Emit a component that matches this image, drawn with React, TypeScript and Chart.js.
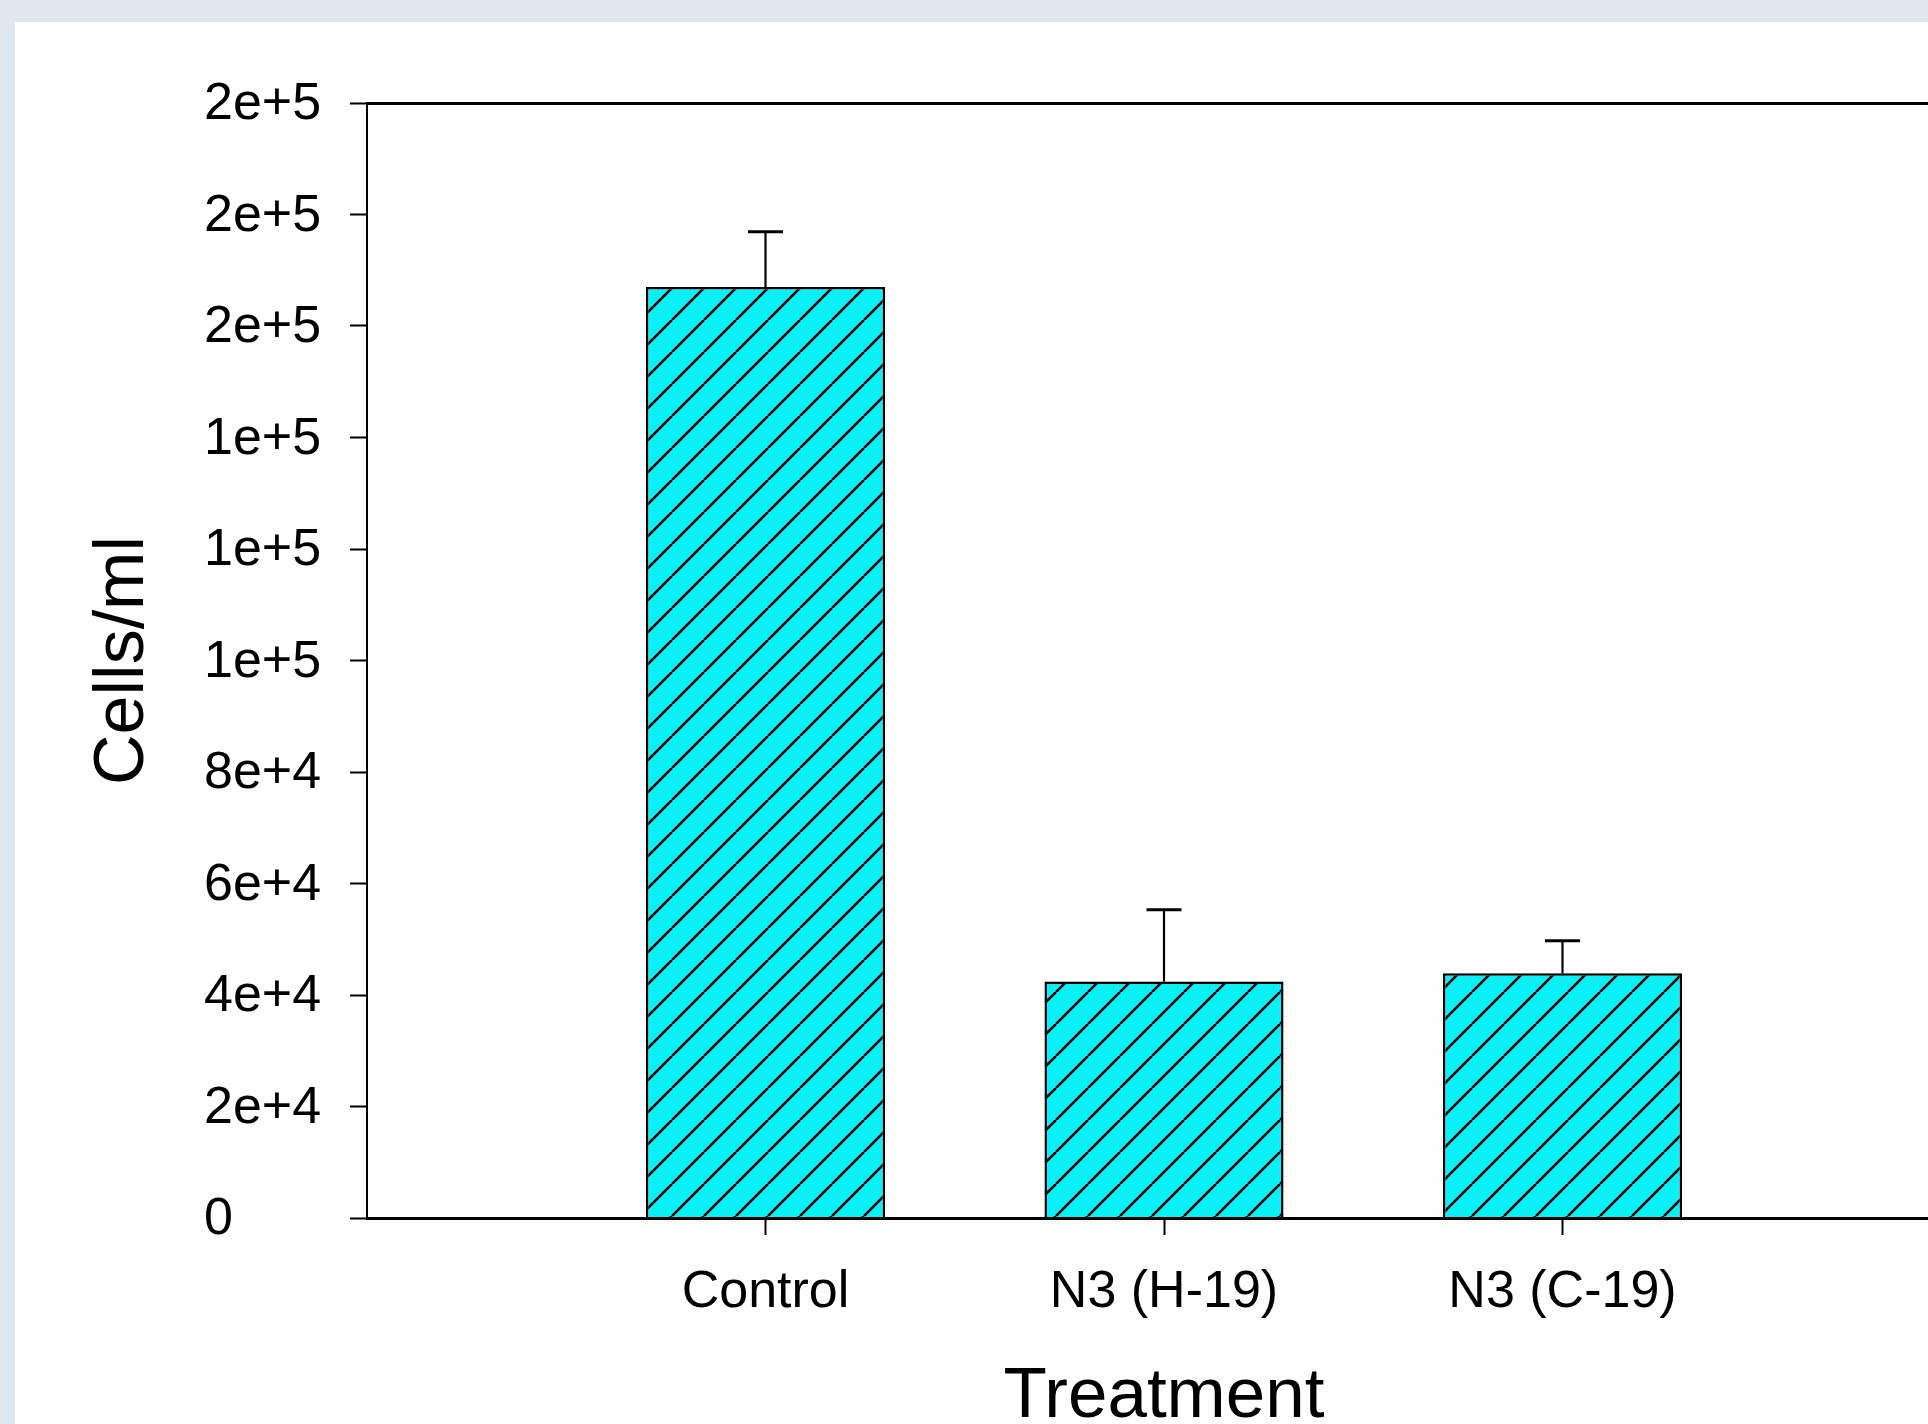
import React, { useEffect, useRef } from 'react';
import { Chart, registerables } from 'chart.js';

Chart.register(...registerables);

// ---- data ----
const categories = ['Control', 'N3 (H-19)', 'N3 (C-19)'];
const means = [167000, 42400, 43900];
const errors = [9900, 12900, 5850];
const yTickLabels = ['0', '2e+4', '4e+4', '6e+4', '8e+4', '1e+5', '1e+5', '1e+5', '2e+5', '2e+5', '2e+5'];
const yMin = 0;
const yMax = 200000;
const yStep = 20000;
const yAxisTitle = 'Cells/ml';
const xAxisTitle = 'Treatment';

const FONT = 'Liberation Sans, Arial, Helvetica, sans-serif';
const BAR_FILL = 'rgb(10, 240, 245)';

function makeHatch(ctx: CanvasRenderingContext2D): CanvasPattern | string {
  const size = 32;
  const tile = document.createElement('canvas');
  tile.width = size;
  tile.height = size;
  const t = tile.getContext('2d');
  if (!t) return BAR_FILL;
  t.fillStyle = BAR_FILL;
  t.fillRect(0, 0, size, size);
  t.strokeStyle = '#000';
  t.lineWidth = 2.6;
  for (const k of [-1, 0, 1]) {
    t.beginPath();
    t.moveTo(k * size, size);
    t.lineTo(k * size + size, 0);
    t.stroke();
  }
  return ctx.createPattern(tile, 'repeat') || BAR_FILL;
}

const errorBarPlugin = {
  id: 'errorBars',
  afterDatasetsDraw(chart: any) {
    const { ctx, scales } = chart;
    const x = scales.x;
    const y = scales.y;
    ctx.save();
    ctx.strokeStyle = '#000';
    means.forEach((m, i) => {
      const px = x.getPixelForValue(i + 1);
      const top = y.getPixelForValue(m);
      const tip = y.getPixelForValue(m + errors[i]);
      ctx.lineWidth = 2.2;
      ctx.beginPath();
      ctx.moveTo(px, top);
      ctx.lineTo(px, tip);
      ctx.stroke();
      ctx.lineWidth = 3;
      ctx.beginPath();
      ctx.moveTo(px - 17.5, tip);
      ctx.lineTo(px + 17.5, tip);
      ctx.stroke();
    });
    ctx.restore();
  },
};

export default function App() {
  const canvasRef = useRef<HTMLCanvasElement | null>(null);

  useEffect(() => {
    const canvas = canvasRef.current;
    if (!canvas) return;
    const ctx = canvas.getContext('2d');
    if (!ctx) return;
    Chart.defaults.font.family = FONT;
    const hatch = makeHatch(ctx);

    const chart = new Chart(ctx, {
      type: 'bar',
      data: {
        datasets: [
          {
            data: means.map((v, i) => ({ x: i + 1, y: v })),
            backgroundColor: hatch as any,
            borderColor: '#000',
            borderWidth: 2.5,
            barPercentage: 0.6,
            categoryPercentage: 1,
          },
        ],
      },
      options: {
        animation: false,
        responsive: false,
        devicePixelRatio: 1,
        events: [],
        layout: { padding: { left: 0, top: 103, right: 39, bottom: 0 } },
        plugins: {
          legend: { display: false },
          tooltip: { enabled: false },
        },
        scales: {
          x: {
            type: 'linear',
            position: 'bottom',
            offset: false,
            min: 0,
            max: categories.length + 1,
            afterBuildTicks: (s: any) => {
              s.ticks = categories.map((_, i) => ({ value: i + 1 }));
            },
            afterFit: (s: any) => {
              s.height = 222;
            },
            ticks: {
              callback: (v: any) => categories[Number(v) - 1] ?? '',
              font: { family: FONT, size: 52 },
              color: '#000',
              padding: 26,
              maxRotation: 0,
              autoSkip: false,
            },
            grid: {
              display: true,
              offset: false,
              drawOnChartArea: false,
              drawTicks: true,
              tickLength: 17,
              tickWidth: 2,
              tickColor: '#000',
              color: '#000',
            },
            border: { display: true, color: '#000', width: 3, z: 1 },
            title: {
              display: true,
              text: xAxisTitle,
              color: '#000',
              font: { family: FONT, size: 71 },
              padding: { top: 0, bottom: 0 },
            },
          },
          xTop: {
            type: 'linear',
            position: 'top',
            offset: false,
            min: 0,
            max: categories.length + 1,
            afterFit: (s: any) => {
              s.height = 0;
            },
            ticks: { display: false },
            grid: { display: true, offset: false, drawOnChartArea: false, drawTicks: false },
            border: { display: true, color: '#000', width: 3, z: 1 },
          },
          y: {
            type: 'linear',
            position: 'left',
            min: yMin,
            max: yMax,
            afterFit: (s: any) => {
              s.width = 163;
            },
            ticks: {
              stepSize: yStep,
              crossAlign: 'far',
              labelOffset: 2,
              callback: (_v: any, i: number) => yTickLabels[i],
              font: { family: FONT, size: 52 },
              color: '#000',
            },
            grid: {
              display: true,
              drawOnChartArea: false,
              drawTicks: true,
              tickLength: 17,
              tickWidth: 2,
              tickColor: '#000',
              color: '#000',
            },
            border: { display: true, color: '#000', width: 2 },
          },
          yTitle: {
            type: 'linear',
            position: 'left',
            weight: 1,
            min: 0,
            max: 1,
            afterFit: (s: any) => {
              s.width = 204;
            },
            ticks: { display: false },
            grid: { display: false },
            border: { display: false },
            title: {
              display: true,
              text: yAxisTitle,
              color: '#000',
              font: { family: FONT, size: 70 },
              padding: { top: 82, bottom: 0 },
            },
          },
        },
      } as any,
      plugins: [errorBarPlugin],
    });

    return () => {
      chart.destroy();
    };
  }, []);

  return (
    <div
      style={{
        position: 'fixed',
        left: 0,
        top: 0,
        right: 0,
        bottom: 0,
        background: '#dfe8ee',
        overflow: 'hidden',
      }}
    >
      <div
        style={{
          position: 'absolute',
          left: 15,
          top: 22,
          right: 0,
          bottom: 0,
          background: '#ffffff',
        }}
      />
      <canvas
        ref={canvasRef}
        width={2000}
        height={1440}
        style={{ position: 'absolute', left: 0, top: 0, width: 2000, height: 1440 }}
      />
    </div>
  );
}
